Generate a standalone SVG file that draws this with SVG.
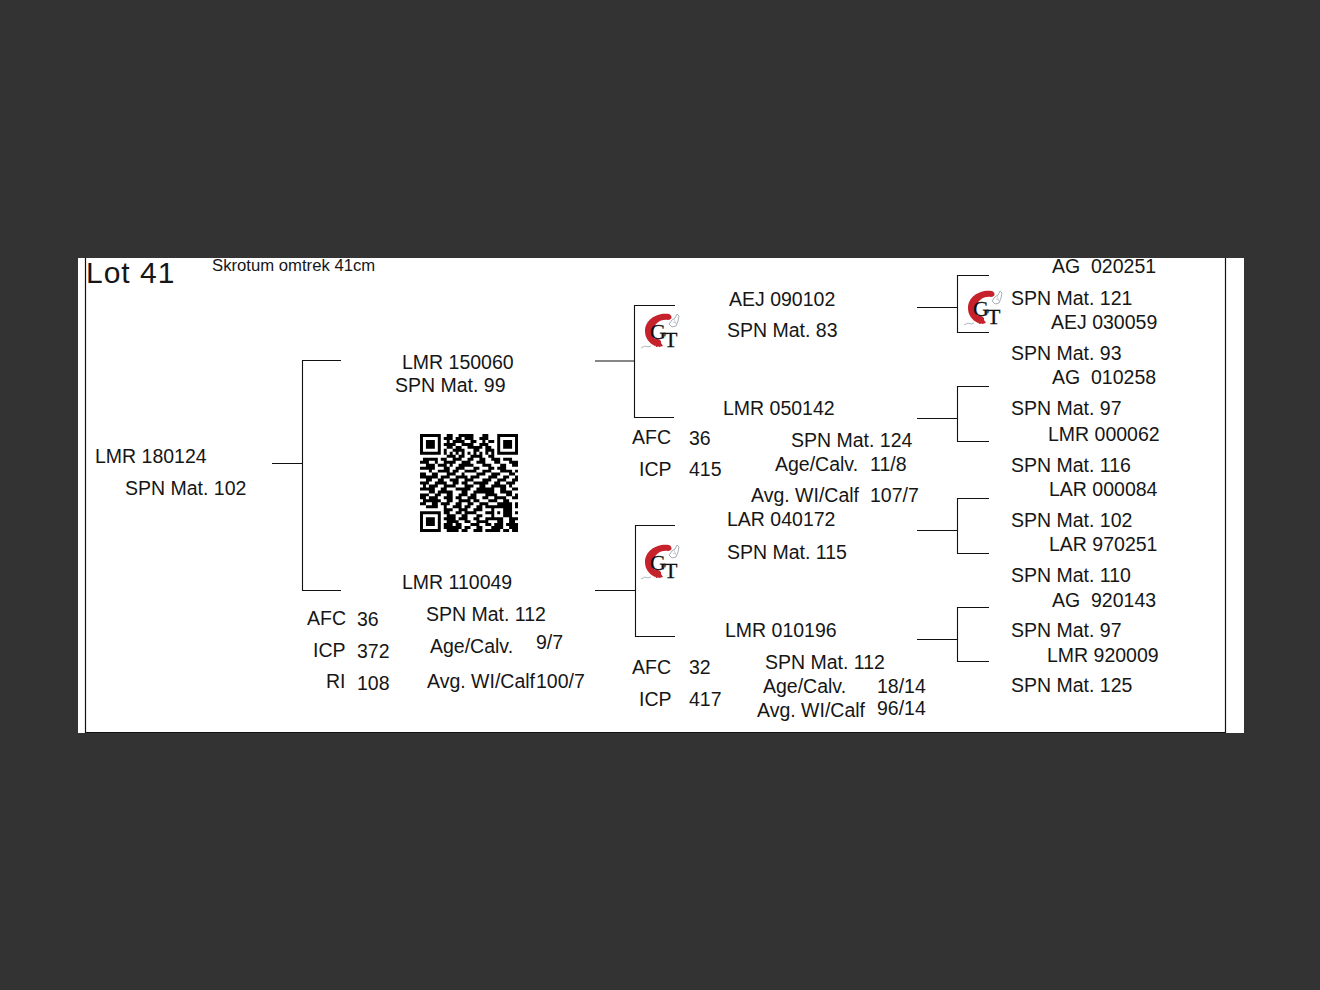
<svg xmlns="http://www.w3.org/2000/svg" width="1320" height="990" viewBox="0 0 1320 990">
<style>
text{font-family:"Liberation Sans",Arial,sans-serif;font-size:19.5px;fill:#161616;white-space:pre}
.c{fill:none;stroke:#111;stroke-width:1.1}
.g{font-family:"Liberation Serif","Times New Roman",serif;font-size:22px;fill:#111;stroke:#111;stroke-width:.3}
.gt{font-family:"Liberation Serif","Times New Roman",serif;font-size:22px;fill:#111;stroke:#111;stroke-width:.3}
</style>
<defs>
<g id="mark">
<path d="M25 1C14-1 1 6 1 18C1 25 5 30 11 33L15 30C10 27 8 23 9 18C10 11 16 6 24 7C28 7 29 3 25 1Z" fill="#c5222b"/>
<path d="M9 26l3 8 5-1 0-5-4-3z" fill="#c5222b"/>
<path d="M13 30l2 4 4-1-2-3z" fill="#c5222b"/>
<path d="M25 11l3-4 3-2 2-4 2 2-1 5-2 5-4 1z" fill="none" stroke="#a9afb6" stroke-width="1"/>
<path d="M29 9l3 1M30 6l2 5" fill="none" stroke="#c3c7cc" stroke-width=".8"/>
<path d="M-3 35l4-2 3 1 3-1" fill="none" stroke="#b4b9c0" stroke-width="1"/>
</g>
</defs>
<rect width="1320" height="990" fill="#333333"/>
<rect x="78" y="258" width="1166" height="475" fill="#ffffff"/>
<path d="M85.5 258V732.5H1225.5V258" fill="none" stroke="#111" stroke-width="1.2"/>
<g id="connectors">
<path class="c" d="M272 463.5H302.5M341 360.5H302.5V590.5H341"/>
<path class="c" d="M595 361H634.5M675 305.5H634.5V417.5H674"/>
<path class="c" d="M595 590.5H635.5M675 525.5H635.5V636.5H675"/>
<path class="c" d="M917 307.5H957.5M989 275.5H957.5V332.5H989"/>
<path class="c" d="M917 418.5H957.5M989 386.5H957.5V441.5H989"/>
<path class="c" d="M917 530.5H957.5M989 498.5H957.5V553.5H989"/>
<path class="c" d="M917 639.5H957.5M989 607.5H957.5V661.5H989"/>
</g>
<g id="title"><text x="86" y="283" style="font-size:30px;letter-spacing:1px">Lot 41</text>
<text x="212" y="271" style="font-size:16.7px">Skrotum omtrek 41cm</text></g>
<g id="logo-1"><use href="#mark" x="644" y="313"/><text class="g" x="650" y="339">G</text><text class="gt" x="664" y="347">T</text></g>
<g id="logo-2"><use href="#mark" x="967" y="290"/><text class="g" x="973" y="316">G</text><text class="gt" x="987" y="324">T</text></g>
<g id="logo-3"><use href="#mark" x="644" y="544"/><text class="g" x="650" y="570">G</text><text class="gt" x="664" y="578">T</text></g>
<g id="qr"><path transform="translate(420 434) scale(2.97)" fill="none" stroke="#000" stroke-width="1" d="
M0 .5h7M9 .5h2M13 .5h5M21 .5h2M26 .5h7
M0 1.5h1M6 1.5h1M8 1.5h3M12 1.5h2M15 1.5h3M20 1.5h3M26 1.5h1M32 1.5h1
M0 2.5h1M2 2.5h3M6 2.5h1M9 2.5h1M11 2.5h4M17 2.5h2M21 2.5h1M23 2.5h2M26 2.5h1M28 2.5h3M32 2.5h1
M0 3.5h1M2 3.5h3M6 3.5h1M8 3.5h4M14 3.5h4M20 3.5h3M26 3.5h1M28 3.5h3M32 3.5h1
M0 4.5h1M2 4.5h3M6 4.5h1M9 4.5h2M12 4.5h2M16 4.5h5M22 4.5h2M26 4.5h1M28 4.5h3M32 4.5h1
M0 5.5h1M6 5.5h1M8 5.5h1M11 5.5h4M18 5.5h2M22 5.5h3M26 5.5h1M32 5.5h1
M0 6.5h7M8 6.5h1M10 6.5h1M12 6.5h1M14 6.5h1M16 6.5h1M18 6.5h1M20 6.5h1M22 6.5h1M24 6.5h1M26 6.5h7
M9 7.5h3M13 7.5h2M17 7.5h4M23 7.5h2
M1 8.5h5M7 8.5h2M11 8.5h3M16 8.5h2M20 8.5h2M24 8.5h3M28 8.5h3
M0 9.5h3M5 9.5h1M8 9.5h4M14 9.5h3M19 9.5h3M25 9.5h2M30 9.5h3
M2 10.5h3M6 10.5h3M10 10.5h1M13 10.5h5M21 10.5h3M27 10.5h2M31 10.5h2
M0 11.5h5M8 11.5h2M12 11.5h3M18 11.5h2M23 11.5h2M26 11.5h3
M3 12.5h1M6 12.5h4M11 12.5h2M15 12.5h4M21 12.5h3M27 12.5h4M32 12.5h1
M0 13.5h2M4 13.5h2M9 13.5h3M14 13.5h1M19 13.5h3M24 13.5h3M30 13.5h2
M0 14.5h6M7 14.5h3M12 14.5h4M17 14.5h3M23 14.5h3M28 14.5h2M32 14.5h1
M2 15.5h2M6 15.5h2M10 15.5h3M15 15.5h3M21 15.5h3M26 15.5h3M31 15.5h2
M0 16.5h3M5 16.5h4M11 16.5h2M14 16.5h2M18 16.5h5M25 16.5h2M29 16.5h3
M1 17.5h1M3 17.5h3M8 17.5h4M15 17.5h3M20 17.5h2M24 17.5h5M30 17.5h1
M0 18.5h5M7 18.5h2M12 18.5h5M19 18.5h6M27 18.5h2M31 18.5h2
M3 19.5h2M6 19.5h5M14 19.5h2M18 19.5h7M27 19.5h4
M0 20.5h3M5 20.5h2M9 20.5h2M13 20.5h3M17 20.5h2M22 20.5h4M29 20.5h2M32 20.5h1
M0 21.5h2M3 21.5h3M8 21.5h3M12 21.5h2M16 21.5h3M21 21.5h2M25 21.5h4M31 21.5h2
M1 22.5h6M9 22.5h2M13 22.5h4M18 22.5h2M23 22.5h3M28 22.5h2
M0 23.5h2M4 23.5h2M7 23.5h3M12 23.5h2M16 23.5h2M20 23.5h3M26 23.5h5M32 23.5h1
M2 24.5h4M8 24.5h1M11 24.5h3M15 24.5h2M19 24.5h2M22 24.5h9M32 24.5h1
M8 25.5h3M13 25.5h3M18 25.5h3M24 25.5h1M28 25.5h3
M0 26.5h7M8 26.5h2M12 26.5h2M15 26.5h4M22 26.5h3M26 26.5h1M28 26.5h3M32 26.5h1
M0 27.5h1M6 27.5h1M9 27.5h3M14 27.5h2M19 27.5h2M24 27.5h1M28 27.5h3
M0 28.5h1M2 28.5h3M6 28.5h1M8 28.5h4M13 28.5h3M18 28.5h2M22 28.5h6M30 28.5h3
M0 29.5h1M2 29.5h3M6 29.5h1M9 29.5h4M15 29.5h2M19 29.5h4M26 29.5h2M30 29.5h2
M0 30.5h1M2 30.5h3M6 30.5h1M8 30.5h3M12 30.5h2M17 30.5h3M22 30.5h2M25 30.5h3M29 30.5h4
M0 31.5h1M6 31.5h1M8 31.5h6M15 31.5h2M19 31.5h2M24 31.5h4M30 31.5h3
M0 32.5h7M9 32.5h4M14 32.5h2M18 32.5h3M22 32.5h5M28 32.5h2M31 32.5h2"/></g>
<g id="n-root"><text x="95" y="463">LMR 180124</text><text x="125" y="495">SPN Mat. 102</text></g>
<g id="n-sire"><text x="402" y="369">LMR 150060</text><text x="395" y="392">SPN Mat. 99</text></g>
<g id="n-dam"><text x="402" y="589">LMR 110049</text><text x="426" y="621">SPN Mat. 112</text>
<text x="430" y="653">Age/Calv.</text><text x="536" y="649">9/7</text><text x="427" y="688">Avg. WI/Calf</text><text x="536" y="688">100/7</text>
<text x="307" y="625">AFC</text><text x="357" y="626">36</text><text x="313" y="657">ICP</text><text x="357" y="658">372</text><text x="326" y="688">RI</text><text x="357" y="690">108</text></g>
<g id="n-ss"><text x="729" y="306">AEJ 090102</text><text x="727" y="337">SPN Mat. 83</text></g>
<g id="n-sd"><text x="723" y="415">LMR 050142</text><text x="791" y="447">SPN Mat. 124</text><text x="775" y="471">Age/Calv.</text><text x="870" y="471">11/8</text><text x="751" y="502">Avg. WI/Calf</text><text x="870" y="502">107/7</text>
<text x="632" y="444">AFC</text><text x="689" y="445">36</text><text x="639" y="476">ICP</text><text x="689" y="476">415</text></g>
<g id="n-ds"><text x="727" y="526">LAR 040172</text><text x="727" y="559">SPN Mat. 115</text></g>
<g id="n-dd"><text x="725" y="637">LMR 010196</text><text x="765" y="669">SPN Mat. 112</text><text x="763" y="693">Age/Calv.</text><text x="877" y="693">18/14</text><text x="757" y="717">Avg. WI/Calf</text><text x="877" y="715">96/14</text>
<text x="632" y="674">AFC</text><text x="689" y="674">32</text><text x="639" y="706">ICP</text><text x="689" y="706">417</text></g>
<g id="n-r1"><text x="1052" y="273">AG  020251</text><text x="1011" y="305">SPN Mat. 121</text></g>
<g id="n-r2"><text x="1051" y="329">AEJ 030059</text><text x="1011" y="360">SPN Mat. 93</text></g>
<g id="n-r3"><text x="1052" y="384">AG  010258</text><text x="1011" y="415">SPN Mat. 97</text></g>
<g id="n-r4"><text x="1048" y="441">LMR 000062</text><text x="1011" y="472">SPN Mat. 116</text></g>
<g id="n-r5"><text x="1049" y="496">LAR 000084</text><text x="1011" y="527">SPN Mat. 102</text></g>
<g id="n-r6"><text x="1049" y="551">LAR 970251</text><text x="1011" y="582">SPN Mat. 110</text></g>
<g id="n-r7"><text x="1052" y="607">AG  920143</text><text x="1011" y="637">SPN Mat. 97</text></g>
<g id="n-r8"><text x="1047" y="662">LMR 920009</text><text x="1011" y="692">SPN Mat. 125</text></g>
</svg>
